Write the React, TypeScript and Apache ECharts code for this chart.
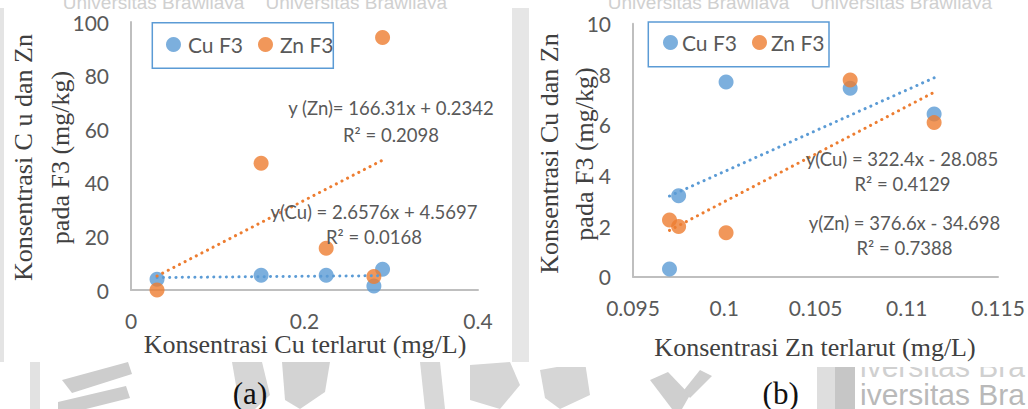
import React, { useEffect, useRef } from "react";
import * as echarts from "echarts";

// ---- data (a) ----
const xA = [0.03, 0.15, 0.225, 0.28, 0.29];
const cuA = [4.0, 5.5, 5.5, 1.5, 7.7];
const znA = [0, 47.3, 15.6, 5.0, 94.2];
const cuTrendA = [2.6576, 4.5697];
const znTrendA = [166.31, 0.2342];

// ---- data (b) ----
const xB = [0.097, 0.0975, 0.1001, 0.1069, 0.1115];
const cuB = [0.3, 3.2, 7.7, 7.45, 6.43];
const znB = [2.24, 1.98, 1.74, 7.77, 6.09];
const cuTrendB = [322.4, -28.085];
const znTrendB = [376.6, -34.698];

const seriesNames = ["Cu F3", "Zn F3"];
const eqA = ["y (Zn)= 166.31x + 0.2342", "R² = 0.2098", "y(Cu) = 2.6576x + 4.5697", "R² = 0.0168"];
const eqB = ["y(Cu) = 322.4x - 28.085", "R² = 0.4129", "y(Zn) = 376.6x - 34.698", "R² = 0.7388"];
const yTitleA = ["Konsentrasi C u dan Zn", "pada F3 (mg/kg)"];
const yTitleB = ["Konsentrasi Cu dan Zn", "pada F3 (mg/kg)"];
const xTitleA = "Konsentrasi Cu terlarut (mg/L)";
const xTitleB = "Konsentrasi Zn terlarut (mg/L)";
const captions = ["(a)", "(b)"];
const watermark = ["Universitas Brawijaya    Universitas Brawijaya", "iversitas Bra"];

const BLUE = "#5b9bd5";
const ORANGE = "#ed7d31";
const TXT = "#595959";
const SANS = "Lato, 'Open Sans', sans-serif";
const SERIF = "'Liberation Serif', 'Times New Roman', serif";
const WM = "#cdcdcd";

const pts = (xs: number[], ys: number[]) => xs.map((x, i) => [x, ys[i]]);
const trend = (xs: number[], c: number[]) => {
  const lo = Math.min(...xs);
  const hi = Math.max(...xs);
  return [[lo, c[0] * lo + c[1]], [hi, c[0] * hi + c[1]]];
};

export default function App() {
  const ref = useRef<HTMLDivElement>(null);
  useEffect(() => {
    if (!ref.current) return;
    const chart = echarts.init(ref.current, undefined, { renderer: "svg" });

    const axisCommon = {
      axisLine: { show: true, lineStyle: { color: "#bfbfbf", width: 2 } },
      axisTick: { show: false },
      splitLine: { show: false },
      axisLabel: { color: TXT, fontSize: 21, fontFamily: SANS },
    };
    const scatter = (name: string, xi: number, data: number[][], color: string) => ({
      type: "scatter",
      name,
      xAxisIndex: xi,
      yAxisIndex: xi,
      data,
      symbol: "circle",
      symbolSize: 15,
      itemStyle: { color },
      z: 2,
    });
    const tline = (name: string, xi: number, data: number[][], color: string) => ({
      type: "line",
      name,
      xAxisIndex: xi,
      yAxisIndex: xi,
      data,
      symbol: "none",
      silent: true,
      lineStyle: { color, width: 3, type: [0.1, 6.2], cap: "round" },
      z: 3,
    });
    const txt = (text: string, x: number, y: number, font: string, color = TXT, rot = 0, z = 100, align = "center") => ({
      type: "text",
      x,
      y,
      rotation: rot,
      style: { text, font, fill: color, align, verticalAlign: "middle" },
      z,
    });
    const poly = (points: number[][], fill = WM) => ({
      type: "polygon",
      shape: { points },
      style: { fill },
      z: -9,
    });
    const eqFont = `18.5px ${SANS}`;
    const titleFont = `26px ${SERIF}`;
    const capFont = `31px ${SERIF}`;
    const wmFont = `30px 'Liberation Sans', sans-serif`;

    chart.setOption({
      animation: false,
      backgroundColor: "#ffffff",
      grid: [
        { left: 131, top: 22, width: 347, height: 268 },
        { left: 633, top: 23.7, width: 365, height: 253 },
      ],
      xAxis: [
        { ...axisCommon, type: "value", gridIndex: 0, min: 0, max: 0.4, interval: 0.2,
          axisLabel: { ...axisCommon.axisLabel, margin: 20, formatter: (v: number) => String(+v.toFixed(3)) } },
        { ...axisCommon, type: "value", gridIndex: 1, min: 0.095, max: 0.115, interval: 0.005,
          axisLabel: { ...axisCommon.axisLabel, margin: 20, formatter: (v: number) => String(+v.toFixed(3)) } },
      ],
      yAxis: [
        { ...axisCommon, type: "value", gridIndex: 0, min: 0, max: 100, interval: 20,
          axisLabel: { ...axisCommon.axisLabel, margin: 22 } },
        { ...axisCommon, type: "value", gridIndex: 1, min: 0, max: 10, interval: 2,
          axisLabel: { ...axisCommon.axisLabel, margin: 22 } },
      ],
      legend: [
        { data: seriesNames, left: 166, top: 34, padding: 0, icon: "circle", itemWidth: 15, itemHeight: 15,
          itemGap: 15, textStyle: { color: TXT, fontSize: 21, fontFamily: SANS, padding: [0, 0, 0, 2] } },
        { data: seriesNames, left: 663, top: 32, padding: 0, icon: "circle", itemWidth: 15, itemHeight: 15,
          itemGap: 15, textStyle: { color: TXT, fontSize: 21, fontFamily: SANS, padding: [0, 0, 0, -1] } },
      ],
      series: [
        scatter(seriesNames[0], 0, pts(xA, cuA), BLUE),
        scatter(seriesNames[1], 0, pts(xA, znA), ORANGE),
        tline(seriesNames[0], 0, trend(xA, cuTrendA), BLUE),
        tline(seriesNames[1], 0, trend(xA, znTrendA), ORANGE),
        scatter(seriesNames[0], 1, pts(xB, cuB), BLUE),
        scatter(seriesNames[1], 1, pts(xB, znB), ORANGE),
        tline(seriesNames[0], 1, trend(xB, cuTrendB), BLUE),
        tline(seriesNames[1], 1, trend(xB, znTrendB), ORANGE),
      ],
      graphic: [
        // ---- watermark-like background (drawn under the white panels) ----
        txt(watermark[0], 255, 2, `19px 'Liberation Sans', sans-serif`, "#d0d0d0", 0, -9),
        txt(watermark[0], 800, 2, `19px 'Liberation Sans', sans-serif`, "#d0d0d0", 0, -9),
        poly([[62, 380], [128, 362], [132, 374], [72, 393]]),
        poly([[58, 402], [126, 386], [130, 398], [86, 409], [58, 409]]),
        poly([[30, 362], [40, 362], [40, 409], [30, 409]], "#e2e2e2"),
        poly([[232, 362], [262, 362], [270, 395], [255, 409], [240, 409]], "#d6d6d6"),
        poly([[282, 362], [330, 362], [325, 392], [300, 409], [285, 400]], "#d3d3d3"),
        poly([[420, 362], [440, 362], [445, 409], [425, 409]], "#d8d8d8"),
        poly([[470, 365], [510, 362], [520, 385], [500, 409], [470, 400]], "#d6d6d6"),
        poly([[540, 370], [585, 362], [590, 395], [560, 409], [545, 398]], "#d6d6d6"),
        poly([[650, 380], [668, 372], [690, 395], [682, 409], [672, 409]], "#cfcfcf"),
        poly([[700, 370], [712, 376], [690, 398], [684, 390]], "#cfcfcf"),
        poly([[512, 8], [529, 8], [529, 362], [512, 362]], "#e6e6e6"),
        poly([[0, 8], [4, 8], [4, 362], [0, 362]], "#e4e4e4"),
        { type: "rect", shape: { x: 817, y: 362, width: 18, height: 47 }, style: { fill: "#dedede" }, z: -9 },
        { type: "rect", shape: { x: 835, y: 362, width: 20, height: 47 }, style: { fill: "#c6c6c6" }, z: -9 },
        txt(watermark[1], 860, 366, wmFont, "#d0d0d0", 0, -9, "left"),
        txt(watermark[1], 860, 394, wmFont, "#b9b9b9", 0, -9, "left"),
        // white panels
        { type: "rect", shape: { x: 4, y: 9, width: 508, height: 353 }, style: { fill: "#ffffff" }, z: -8 },
        { type: "rect", shape: { x: 529, y: 9, width: 499, height: 358 }, style: { fill: "#ffffff" }, z: -8 },
        // legend boxes
        { type: "rect", shape: { x: 152.3, y: 22.7, width: 181, height: 45.6 },
          style: { fill: "#ffffff", stroke: BLUE, lineWidth: 1.5 }, z: 0 },
        { type: "rect", shape: { x: 648.3, y: 22, width: 180.7, height: 44.7 },
          style: { fill: "#ffffff", stroke: BLUE, lineWidth: 1.5 }, z: 0 },
        // equations (a)
        txt(eqA[0], 391, 108, eqFont),
        txt(eqA[1], 391, 135, eqFont),
        txt(eqA[2], 374, 211.7, eqFont),
        txt(eqA[3], 374, 237.3, eqFont),
        // equations (b)
        txt(eqB[0], 902, 159.3, eqFont),
        txt(eqB[1], 902.5, 184.3, eqFont),
        txt(eqB[2], 904.5, 222.7, eqFont),
        txt(eqB[3], 904.5, 248.3, eqFont),
        // axis titles
        txt(yTitleA[0], 23.3, 157.6, titleFont, "#404040", Math.PI / 2),
        txt(yTitleA[1], 60, 157.5, titleFont, "#404040", Math.PI / 2),
        txt(yTitleB[0], 549, 153.5, titleFont, "#404040", Math.PI / 2),
        txt(yTitleB[1], 584, 154, titleFont, "#404040", Math.PI / 2),
        txt(xTitleA, 305, 344, titleFont, "#404040"),
        txt(xTitleB, 815, 347, titleFont, "#404040"),
        // captions
        txt(captions[0], 250, 393, capFont, "#111111"),
        txt(captions[1], 780.7, 393, capFont, "#111111"),
      ],
    });
    return () => chart.dispose();
  }, []);
  return <div ref={ref} style={{ position: "fixed", left: 0, top: 0, width: 1028, height: 409 }} />;
}
